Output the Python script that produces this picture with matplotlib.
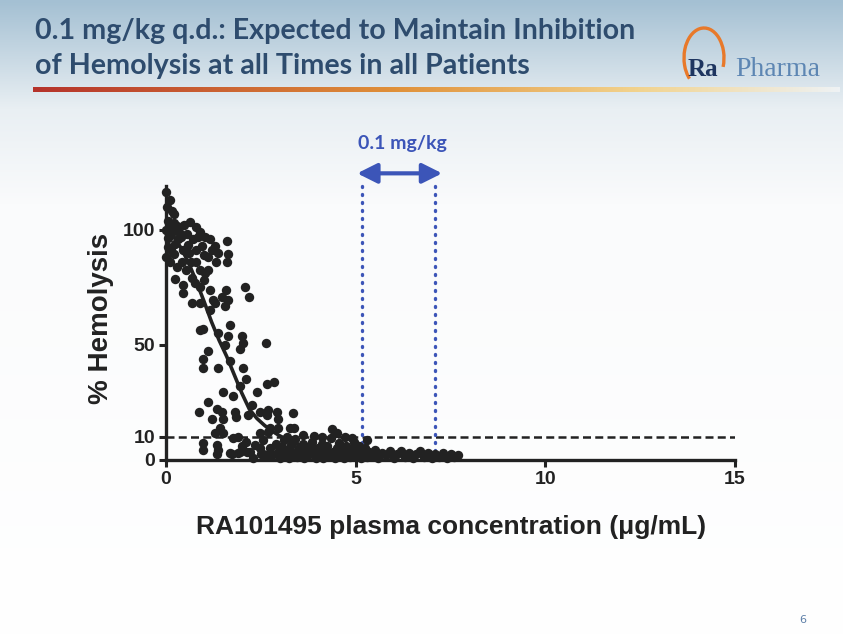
import numpy as np
import matplotlib
matplotlib.use("Agg")
import matplotlib.pyplot as plt
import matplotlib.patches as patches
from matplotlib.colors import LinearSegmentedColormap

# scatter: plasma concentration (ug/mL) vs % hemolysis
conc = [0.0, 0.1, 0.15, 0.05, 0.3, 0.47, 0.63, 0.79, 0.9, 1.03, 1.16, 1.29, 1.37, 1.6, 1.63, 1.6,
        1.33, 1.1, 0.79, 0.58, 0.32, 0.16, 0.05, 0.05, 0.21, 0.42, 0.53, 0.68, 0.24, 0.45, 0.79, 0.9,
        1.0, 1.03, 0.76, 0.9, 1.1, 0.0, 0.1, 0.2, 0.35, 0.4, 0.25, 0.12, 0.0, 0.55, 0.7, 0.6,
        0.45, 0.95, 1.2, 0.3, 0.1, 0.65, 1.0, 0.85, 0.2, 0.02, 0.08,
        0.45, 0.68, 0.9, 1.29, 1.16, 1.55, 1.63, 2.08, 2.2, 1.47, 1.58, 1.24, 1.16, 1.68, 0.9, 0.97,
        1.37, 1.63, 2.0, 2.03, 1.95, 1.55, 1.1, 0.97, 2.63, 0.97, 1.37, 1.68, 2.03,
        2.1, 1.95, 1.5, 1.76, 2.39, 1.1, 0.87, 1.21, 1.34, 1.47, 1.5, 1.82, 1.84, 2.16, 2.26, 2.47,
        2.66, 1.42, 1.29, 1.5, 1.76, 1.89, 2.47, 2.68, 2.66, 2.84, 2.68, 2.92, 3.34, 2.95, 2.74, 2.95,
        3.26, 3.37, 4.37, 4.5, 4.71, 4.9, 5.3,
        0.97, 1.34, 1.37, 1.74, 2.21, 2.34, 2.47, 2.66, 2.55, 2.0, 1.9, 2.3, 2.5, 2.1, 0.97, 1.34,
        1.68, 1.95, 2.13, 2.55,
        2.75, 2.8, 2.9, 2.95, 3.0, 3.05, 3.1, 3.15, 3.2, 3.25, 3.3, 3.35, 3.4, 3.45, 3.5, 3.55,
        3.6, 3.65, 3.7, 3.75, 3.8, 3.85, 3.9, 3.95, 4.0, 4.05, 4.1, 4.15, 4.2, 4.25, 4.3, 4.35,
        4.4, 4.45, 4.5, 4.55, 4.6, 4.65, 4.7, 4.75, 4.8, 4.85, 4.9, 4.95, 5.0, 5.05, 5.1, 5.15,
        5.2, 5.25, 5.3, 5.35, 5.45, 5.5, 5.6, 5.7, 5.8, 5.9, 6.0, 6.1, 6.2, 6.3, 6.4, 6.5,
        6.6, 6.7, 6.8, 6.9, 7.0, 7.1, 7.2, 7.3, 7.4, 7.5, 7.6, 7.7, 3.6, 3.9, 4.1, 3.2]
hemolysis = [116.5, 113, 108, 104, 101.7, 102, 103.5, 101, 99, 97, 96, 93, 90, 95, 89.6, 86,
             86, 88, 91, 93.5, 96, 99, 96.5, 92.6, 89.6, 86, 82.6, 79, 78.7, 76, 86, 82.6,
             78, 81, 77, 75, 82.6, 100, 101, 103, 99, 97, 94, 91, 88, 98, 96, 90,
             91, 93, 91, 84, 86, 86, 89, 97, 107, 110, 98,
             72.6, 68, 68, 68, 65, 67, 69.6, 75, 71, 71, 74, 69.6, 74, 58.7, 56.5, 57,
             55, 54, 54, 51, 48, 50, 47.4, 44, 51, 40, 40, 43, 40,
             35, 32, 29.6, 28, 29.6, 25, 21, 18, 22, 21, 18, 21, 18.7, 19.6, 24, 21,
             19.6, 14, 11.7, 11.7, 9.6, 10, 11.7, 12, 33, 34, 21.7, 21, 20.4, 18, 14, 13.7,
             13.7, 13.7, 13.5, 11.7, 10, 9.6, 8.7,
             7.4, 6.5, 4.3, 2.6, 3.5, 6.5, 5.2, 2.2, 8.7, 6, 3, 1, 2.5, 8, 4.3, 2.6,
             3, 3.5, 3.5, 2.6,
             5, 2, 7, 3.5, 1, 5.5, 8.5, 2.5, 4.5, 1, 6.5, 3, 9, 1.5, 5, 3,
             7, 1, 4, 2, 6, 8, 3, 1, 5, 2.5, 7, 1, 4, 6, 2, 9.5,
             3.5, 1, 5, 7.5, 2.5, 4, 1, 6, 3, 1.5, 5, 8, 2, 4, 6, 1,
             3, 5, 1.5, 3.5, 2, 4.5, 1, 3, 2, 4, 1, 2.5, 4, 1.5, 3, 1,
             2.5, 4, 1.5, 3, 1, 2.5, 1.5, 3, 1, 2.5, 1.5, 2, 11, 10.5, 10, 10]

# fitted curve
fit_x = [0, 0.2, 0.4, 0.6, 0.8, 1.0, 1.2, 1.4, 1.6, 1.8, 2.0, 2.2, 2.4, 2.6, 2.8, 3.0, 3.3, 3.6, 4.0, 4.5]
fit_y = [100, 97, 92, 85.5, 77.5, 69, 60, 52, 45, 37, 29, 22, 18, 15, 12.5, 10.5, 8, 6, 4, 2.5]

dose_range = [5.16, 7.08]
threshold = 10
xticks = [0, 5, 10, 15]
yticks = [0, 10, 50, 100]

W, H = 843, 635
dark = '#222222'
blue = '#3C55B8'
title_col = '#2E4C6E'

fig = plt.figure(figsize=(W/100, H/100), dpi=100)

# background / header layer in pixel coordinates
bg = fig.add_axes([0, 0, 1, 1], zorder=0)
bg.set_xlim(0, W)
bg.set_ylim(H, 0)
bg.axis('off')
grad = LinearSegmentedColormap.from_list('hdr', [(0, '#A4C0D3'), (0.17, '#E9EFF3'), (0.32, '#FAFBFC'), (1, '#FFFFFF')])
bg.imshow(np.linspace(0, 1, 256).reshape(-1, 1), cmap=grad, extent=[0, W, H, 0], aspect='auto')

# coloured underline
line_cmap = LinearSegmentedColormap.from_list('ul', [(0, '#B5332B'), (0.45, '#E0913A'), (0.75, '#F2D38E'), (1, '#EEF2F4')])
bg.imshow(np.linspace(0, 1, 512).reshape(1, -1), cmap=line_cmap, extent=[33, 840, 92, 87], aspect='auto')

bg.text(35, 31, '0.1 mg/kg q.d.: Expected to Maintain Inhibition', fontsize=20.6, fontweight='bold',
        family='Lato', color=title_col, va='center', ha='left')
bg.text(35, 66, 'of Hemolysis at all Times in all Patients', fontsize=20.6, fontweight='bold',
        family='Lato', color=title_col, va='center', ha='left')

# logo
bg.add_patch(patches.Arc((704, 58), 40, 60, theta1=125, theta2=385, color='#E8792A', lw=2.4))
bg.text(688, 69, 'Ra', fontsize=18, fontweight='bold', family='Liberation Serif', color='#1E3560',
        va='center', ha='left')
bg.text(735, 69, 'Pharma', fontsize=20, family='Liberation Serif', color='#5D86B3', va='center', ha='left')

bg.text(803, 620, '6', fontsize=8, color='#5D7FA8', va='center', ha='center')

# chart
ax = fig.add_axes([166/W, 175/H, 569/W, 274/H], zorder=1)
ax.set_facecolor('none')
ax.set_xlim(0, 15)
ax.set_ylim(0, 119)

ax.scatter(conc, hemolysis, s=46, color=dark, zorder=3, clip_on=False, linewidths=0)
ax.plot(fit_x, fit_y, color=dark, lw=2.6, zorder=4)
ax.axhline(threshold, color=dark, lw=1.8, dashes=(3.2, 1.7), zorder=2)

for xv in dose_range:
    ax.plot([xv, xv], [threshold - 6, 122], color=blue, lw=2.4, ls=(0, (0.3, 2.1)),
            dash_capstyle='round', clip_on=False, zorder=2)
ax.annotate('', xy=(dose_range[0] - 0.12, 124.5), xytext=(dose_range[1] + 0.2, 124.5),
            arrowprops=dict(arrowstyle='<|-|>', color=blue, lw=3, mutation_scale=30,
                            shrinkA=0, shrinkB=0),
            annotation_clip=False)
ax.text(sum(dose_range)/2 + 0.1, 137.5, '0.1 mg/kg', color=blue, fontsize=14, fontweight='bold',
        family='Lato', ha='center', va='center', clip_on=False)

for s in ['top', 'right']:
    ax.spines[s].set_visible(False)
for s in ['left', 'bottom']:
    ax.spines[s].set_linewidth(2.4)
    ax.spines[s].set_color(dark)
ax.set_xticks(xticks)
ax.set_yticks(yticks)
ax.tick_params(direction='out', length=5, width=2.2, color=dark, labelsize=14, pad=3)
for lab in ax.get_xticklabels() + ax.get_yticklabels():
    lab.set_fontweight('bold')
    lab.set_color(dark)
    lab.set_family('Liberation Sans')

fig.text(451/W, 1 - 527/H, 'RA101495 plasma concentration (\u03bcg/mL)', fontsize=19, fontweight='bold',
         family='Liberation Sans', color=dark, ha='center', va='center')
fig.text(101/W, 1 - 318/H, '% Hemolysis', fontsize=20, fontweight='bold', rotation=90,
         family='Liberation Sans', color=dark, ha='center', va='center')

fig.savefig('out.png', dpi=100)
